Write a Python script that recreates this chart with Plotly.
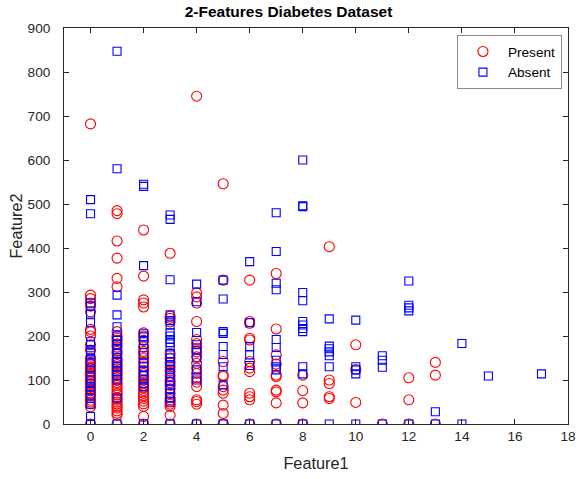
import plotly.graph_objects as go

# Feature1 (pregnancies) and Feature2 (insulin) values, grouped by class
present_f1 = (
    [0] * 36 + [1] * 41 + [2] * 30 + [3] * 22 + [4] * 20 + [5] * 12 + [6] * 12
    + [7] * 10 + [8] * 4 + [9] * 5 + [10] * 3 + [11] * 1 + [12] * 3 + [13] * 3
)
present_f2 = (
    # 0
    [682, 293, 285, 275, 268, 255, 215, 210, 200, 180, 168, 150, 145, 140, 135,
     130, 127, 120, 119, 115, 111, 105, 100, 96, 90, 85, 80, 76, 70, 66, 60, 54,
     50, 46, 39, 0]
    # 1
    + [485, 478, 416, 377, 331, 312, 210, 200, 195, 190, 182, 175, 165, 160, 150,
       145, 140, 135, 130, 125, 120, 115, 110, 105, 100, 94, 88, 82, 76, 70, 66,
       60, 56, 50, 45, 40, 36, 30, 25, 20, 0]
    # 2
    + [441, 336, 282, 275, 266, 207, 200, 190, 175, 165, 161, 150, 140, 130, 122,
       115, 108, 100, 94, 88, 82, 76, 70, 64, 58, 52, 46, 40, 17, 0]
    # 3
    + [388, 245, 240, 232, 160, 150, 140, 130, 120, 110, 100, 94, 88, 80, 70, 60,
       55, 50, 45, 40, 20, 0]
    # 4
    + [745, 298, 289, 275, 233, 192, 183, 172, 164, 153, 138, 127, 115, 105, 95,
       85, 55, 51, 45, 0]
    # 5
    + [546, 327, 142, 111, 108, 85, 77, 70, 43, 24, 0, 0]
    # 6
    + [327, 233, 229, 195, 191, 142, 127, 119, 70, 62, 55, 0]
    # 7
    + [342, 216, 157, 136, 111, 108, 77, 73, 48, 0]
    # 8
    + [111, 76, 48, 0]
    # 9
    + [403, 100, 92, 62, 58]
    # 10
    + [180, 124, 49]
    # 11
    + [0]
    # 12
    + [105, 55, 0]
    # 13
    + [140, 111, 0]
)

absent_f1 = (
    [0] * 23 + [1] * 18 + [2] * 16 + [3] * 25 + [4] * 9 + [5] * 9 + [6] * 6
    + [7] * 10 + [8] * 12 + [9] * 7 + [10] * 5 + [11] * 4 + [12] * 5 + [13] * 2
    + [14] * 2 + [15] * 1 + [17] * 1
)
absent_f2 = (
    # 0
    [510, 478, 275, 268, 250, 230, 187, 180, 168, 164, 155, 140, 125, 110, 100,
     92, 85, 77, 66, 58, 45, 17, 0]
    # 1
    + [847, 580, 293, 248, 221, 200, 190, 180, 170, 160, 150, 140, 130, 120, 110,
       100, 59, 0]
    # 2
    + [545, 540, 360, 205, 198, 190, 180, 155, 139, 130, 120, 110, 100, 92, 85, 0]
    # 3
    + [475, 465, 328, 248, 235, 225, 207, 200, 192, 185, 175, 160, 150, 142, 135,
       125, 115, 105, 96, 88, 80, 70, 60, 50, 0]
    # 4
    + [318, 278, 208, 168, 123, 100, 180, 150, 0]
    # 5
    + [327, 284, 210, 206, 176, 158, 130, 89, 0]
    # 6
    + [369, 176, 157, 133, 230, 0]
    # 7
    + [480, 392, 320, 305, 192, 174, 145, 130, 123, 0]
    # 8
    + [600, 496, 494, 299, 280, 233, 225, 217, 210, 130, 114, 0]
    # 9
    + [239, 177, 171, 164, 155, 130, 0]
    # 10
    + [236, 130, 123, 114, 0]
    # 11
    + [155, 145, 129, 0]
    # 12
    + [325, 270, 264, 257, 0]
    # 13
    + [28, 0]
    # 14
    + [183, 0]
    # 15
    + [109]
    # 17
    + [114]
)

x_ticks = list(range(0, 19, 2))
y_ticks = list(range(0, 901, 100))

FONT = "Liberation Sans, Arial, sans-serif"
AXIS_COLOR = "#262626"

fig = go.Figure()
fig.add_trace(go.Scatter(
    x=present_f1, y=present_f2, mode="markers", name="Present",
    marker=dict(symbol="circle-open", size=10, color="#ff0000",
                line=dict(width=1.1, color="#ff0000")),
))
fig.add_trace(go.Scatter(
    x=absent_f1, y=absent_f2, mode="markers", name="Absent",
    marker=dict(symbol="square-open", size=8, color="#0000ff",
                line=dict(width=1.1, color="#0000ff")),
))

axis_common = dict(
    showgrid=False, zeroline=False, showline=True, linecolor=AXIS_COLOR,
    linewidth=1, mirror="ticks", ticks="inside", ticklen=5, tickwidth=1,
    tickcolor=AXIS_COLOR, tickfont=dict(family=FONT, size=13.6, color=AXIS_COLOR),
)

fig.update_layout(
    width=577, height=479,
    margin=dict(l=64, r=9, t=28, b=55, autoexpand=False),
    paper_bgcolor="white", plot_bgcolor="white",
    title=dict(text="<b>2-Features Diabetes Dataset</b>", x=0.5, xref="container",
               xanchor="center", y=1 - 12 / 479, yanchor="middle",
               font=dict(family=FONT, size=15.5, color="black")),
    xaxis=dict(range=[-1, 18], tickvals=x_ticks, automargin=False,
               title=dict(text="Feature1", standoff=14,
                          font=dict(family=FONT, size=16.3, color=AXIS_COLOR)),
               **axis_common),
    yaxis=dict(range=[0, 900], tickvals=y_ticks, ticklabelstandoff=10,
               automargin=False,
               title=dict(text="Feature2", standoff=0,
                          font=dict(family=FONT, size=16.3, color=AXIS_COLOR)),
               **axis_common),
    legend=dict(x=0.988, y=0.982, xanchor="right", yanchor="top",
                bgcolor="white", bordercolor="#8c8c8c", borderwidth=1,
                font=dict(family=FONT, size=13.6, color="black"),
                itemwidth=40, tracegroupgap=0),
    showlegend=True,
)

fig.write_html("out.html")
